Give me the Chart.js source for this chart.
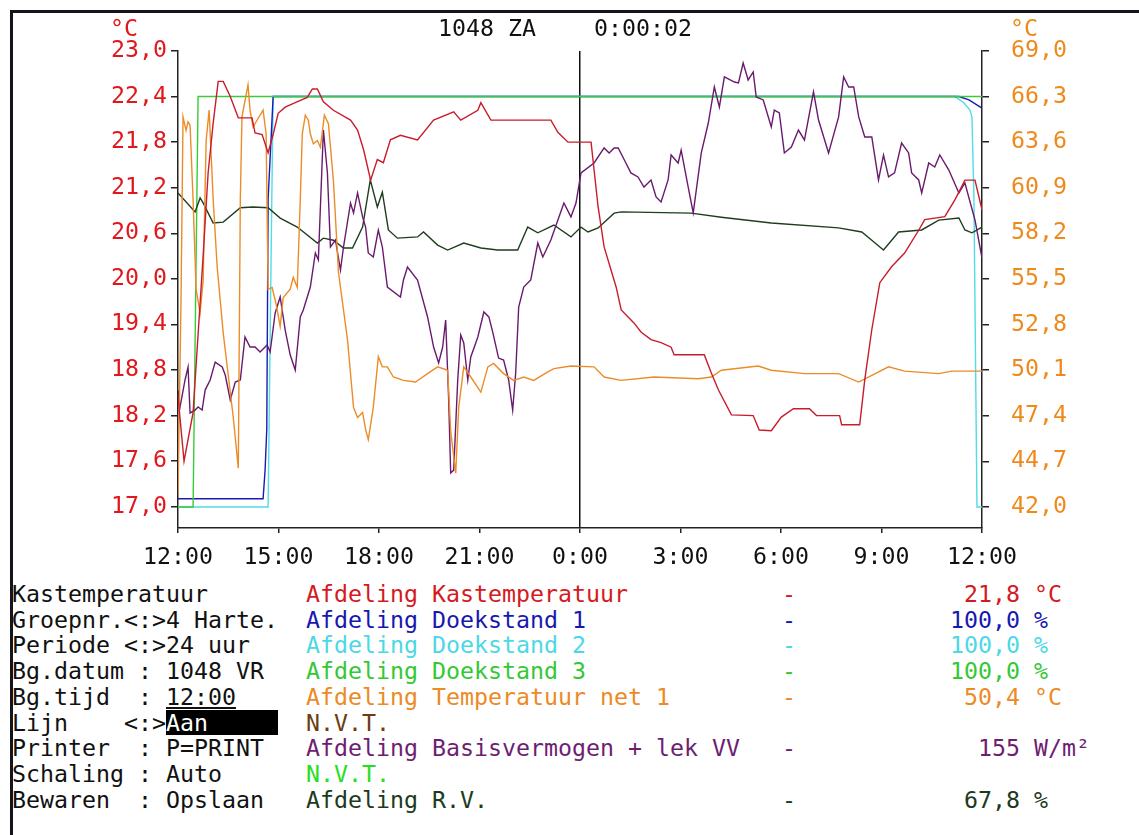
<!DOCTYPE html>
<html>
<head>
<meta charset="utf-8">
<script src="https://cdn.jsdelivr.net/npm/chart.js@4.4.1/dist/chart.umd.min.js"></script>
<style>
body { margin: 0; background: #fff; width: 1139px; height: 835px; overflow: hidden; position: relative;
       font-family: 'DejaVu Sans Mono', monospace; }
.frame { position: absolute; left: 10px; top: 10px; right: 0; bottom: 0;
         border-top: 3px solid #14141c; border-left: 3px solid #14141c; }
#myChart { position: absolute; left: 0; top: 0; }
.txt { position: absolute; font-size: 23.25px; line-height: 26px; white-space: pre; }
.row { position: absolute; left: 12px; width: 1120px; font-size: 23.25px; line-height: 25.7px; height: 25.7px; white-space: pre; }
.row span { position: absolute; top: 0; }
</style>
</head>
<body>
<div class="frame"></div>
<canvas id="myChart" width="1139" height="575"></canvas>
<div class="txt" style="left:110px;top:15px;color:#e0181c">°C</div>
<div class="txt" style="left:1010px;top:15px;color:#ee8a1c">°C</div>
<div class="txt" style="left:438px;top:15px;color:#111">1048 ZA</div>
<div class="txt" style="left:594px;top:15px;color:#111">0:00:02</div>
<div id="legend"></div>

<script>
// grafiek Kastemperatuur 24 uur

Chart.defaults.font.family = "'DejaVu Sans Mono', monospace";
Chart.defaults.font.size = 23.25;

var hourTicks = [0, 3, 6, 9, 12, 15, 18, 21, 24];
var hourLabels = ['12:00', '15:00', '18:00', '21:00', '0:00', '3:00', '6:00', '9:00', '12:00'];
var tempTicks = [17.0, 17.6, 18.2, 18.8, 19.4, 20.0, 20.6, 21.2, 21.8, 22.4, 23.0];
var netTicks = [42.0, 44.7, 47.4, 50.1, 52.8, 55.5, 58.2, 60.9, 63.6, 66.3, 69.0];

// Afdeling Kastemperatuur (°C, links)
var kastHours = [0,0.18,0.45,0.75,0.9,1.05,1.2,1.35,1.56,1.8,2.21,2.3,2.51,2.69,2.84,2.99,3.2,3.5,3.86,4.01,4.16,4.34,4.64,5.15,5.36,5.54,5.75,5.95,6.13,6.34,6.64,7.15,7.63,8.23,8.44,8.95,9.04,9.34,11.13,11.34,11.64,12.33,12.54,12.72,13.08,13.23,13.61,13.82,14.12,14.42,14.72,14.81,15.71,15.92,16.13,16.52,17.17,17.35,17.71,18.01,18.37,18.85,19.06,19.75,19.81,20.35,20.5,20.71,20.95,21.3,21.69,22.11,22.29,22.89,23.19,23.49,23.79,24];
var kastTemp = [18.45,17.6,18.24,20.3,21.4,22.05,22.6,22.6,22.4,22.12,22.12,21.92,21.9,21.66,21.9,22.18,22.26,22.32,22.39,22.5,22.5,22.33,22.22,22.09,21.96,21.7,21.3,21.57,21.53,21.83,21.89,21.83,22.09,22.2,22.09,22.22,22.32,22.09,22.09,21.93,21.8,21.8,20.95,20.42,19.89,19.59,19.42,19.3,19.2,19.16,19.1,19.0,19.0,18.76,18.54,18.21,18.2,18.01,18.0,18.18,18.29,18.29,18.2,18.2,18.08,18.08,18.67,19.33,19.95,20.16,20.34,20.64,20.78,20.82,21.04,21.3,21.3,20.91];

// Doekstanden (%)
var doek1Hours = [0,2.54,2.6,2.65,2.69,2.84,23.31,23.61,24];
var doek1 = [2,2,9,19,75,100,100,99.2,97.2];
var doek2Hours = [0,2.69,2.8,2.84,23.19,23.46,23.64,23.7,23.76,23.85,24];
var doek2 = [0,0,75,100,100,98.5,96.7,95,75,0,0];
var doek3Hours = [0,0.45,0.6,24];
var doek3 = [0,0,100,100];

// Temperatuur net 1 (°C, rechts)
var netHours = [0,0.09,0.15,0.24,0.30,0.36,0.45,0.54,0.66,0.75,0.84,0.93,1.05,1.17,1.35,1.65,1.80,1.86,1.91,2.09,2.15,2.24,2.36,2.54,2.63,2.69,2.81,2.93,3.05,3.14,3.35,3.44,3.56,3.65,3.71,3.80,3.89,3.95,4.04,4.16,4.25,4.37,4.49,4.64,4.79,5.06,5.24,5.36,5.51,5.60,5.68,5.83,5.98,6.10,6.25,6.43,6.73,7.09,7.45,7.75,8.05,8.14,8.29,8.38,8.53,8.74,9.04,9.25,9.42,9.72,10.02,10.32,10.62,11.04,11.22,11.73,12.42,12.72,13.23,14.21,15.53,15.92,16.22,17.32,17.71,18.70,19.72,20.32,20.71,21.21,21.69,22.71,23.10,24];
var netTemp = [42.8,54.3,65.1,64.3,64.8,64.6,60.2,54.9,53.5,55.4,63.7,65.5,60.2,56.2,52.3,47.3,44.3,60.2,65.1,67.0,65.5,64.5,64.9,65.5,64.1,54.9,55.0,54.0,52.7,54.4,54.9,55.6,55.0,60.2,64.1,65.2,64.9,64.1,63.5,63.7,63.3,65.2,64.7,61.3,55.9,51.9,47.9,47.3,47.6,46.6,46.0,47.9,50.9,50.3,50.3,49.7,49.5,49.4,49.9,50.3,50.1,46.5,44.0,47.9,50.3,49.7,48.8,50.3,50.5,49.9,49.5,49.7,49.5,50.0,50.2,50.35,50.3,49.7,49.5,49.7,49.6,49.7,50.1,50.35,50.1,49.9,49.9,49.4,49.8,50.3,50.05,49.9,50.05,50.05];

// Basisvermogen + lek VV (W/m2)
var vermHours = [0,0.06,0.21,0.30,0.36,0.51,0.60,0.72,0.81,0.96,1.11,1.32,1.41,1.56,1.71,1.86,2.00,2.15,2.30,2.45,2.66,2.75,2.90,3.05,3.20,3.35,3.50,3.65,3.74,3.95,4.10,4.19,4.34,4.46,4.55,4.70,4.85,4.94,5.15,5.24,5.36,5.51,5.60,5.68,5.83,5.98,6.10,6.25,6.64,6.73,6.85,7.15,7.45,7.63,7.78,7.90,7.99,8.08,8.14,8.23,8.35,8.44,8.53,8.65,8.74,8.95,9.13,9.28,9.40,9.57,9.72,9.87,9.99,10.08,10.17,10.32,10.53,10.74,10.89,11.13,11.34,11.52,11.73,11.88,12.03,12.42,12.72,12.87,13.02,13.14,13.37,13.52,13.73,13.91,14.12,14.27,14.42,14.63,14.72,14.93,15.02,15.23,15.38,15.62,15.83,16.01,16.16,16.31,16.61,16.73,16.87,17.02,17.17,17.26,17.47,17.71,17.80,17.95,18.10,18.31,18.52,18.70,18.97,19.12,19.42,19.72,19.87,20.02,20.17,20.32,20.50,20.71,20.91,21.06,21.21,21.39,21.60,21.81,21.90,22.11,22.20,22.41,22.59,22.74,23.01,23.31,23.49,23.79,24];
var vermogen = [73.1,62.5,79.4,87.5,58.8,60.6,62.5,60.6,73.1,79.4,90.6,87.5,82.5,66.9,78.1,79.4,106.3,100,100,96.9,101.3,96.9,121.3,131.3,110.6,95,85.6,118.8,123.1,137.5,158.8,154.4,235.6,208.8,162.5,166.9,148.1,162.5,190,183.8,196.3,181.3,175,158.8,156.3,173.1,162.5,137.5,131.3,141.9,150,141.9,118.8,100,90,100,116.9,66.9,21.3,23.1,79.4,107.5,102.5,79.4,93.8,106.3,121.9,118.8,108.8,93.1,91.9,79.4,60.6,83.8,125,137.5,141.9,165,156.3,166.9,179.4,190,181.3,190,208.8,215,224.4,221.3,224.4,224.4,215,208.8,206.3,200,204.4,193.8,190.6,204.4,220,215,223.1,200,183.8,221.3,240,262.5,250,268.8,265.6,265,277.5,266.9,271.9,256.3,254.4,237.5,248.1,246.3,221.3,225,235.6,229.4,259.4,241.9,221.3,243.8,268.8,262.5,262.5,243.8,231.3,231.3,204.4,220,206.3,208.8,227.5,221.3,208.8,204.4,196.3,215,212.5,220,210.6,196.3,202.5,179.4,155.6];

// R.V. (%)
var rvHours = [0,0.51,0.66,0.75,1.05,1.35,1.86,2.24,2.69,3.05,3.56,4.16,4.34,4.64,4.94,5.21,5.51,5.74,5.95,6.10,6.28,6.55,7.15,7.33,7.75,8.05,8.53,9.04,9.54,10.14,10.44,10.74,11.22,11.73,12.03,12.24,12.54,13.02,13.23,15.32,16.22,17.71,19.72,20.41,20.71,21.06,21.51,22.2,22.71,23.31,23.49,23.70,24];
var rv = [76.5,71.9,75.3,74.1,69.2,69.4,72.9,73.1,72.9,70.4,68.2,64.3,65.5,65.0,63.1,63.1,68.2,79.7,73.1,76.7,67.5,65.5,65.8,67.0,63.8,62.6,64.3,63.1,62.6,62.6,68.2,66.8,68.7,65.8,68.2,67.0,68.0,71.6,71.9,71.6,70.6,69.2,68.0,67.0,65.0,62.6,67.0,67.5,69.9,70.4,67.5,66.8,68.2];

// tekst onder de grafiek
var menuItems = ['Kastemperatuur', 'Groepnr.<:>4 Harte.', 'Periode <:>24 uur', 'Bg.datum : 1048 VR',
                 'Bg.tijd  : ', 'Lijn    <:>', 'Printer  : P=PRINT', 'Schaling : Auto', 'Bewaren  : Opslaan'];
var seriesNames = ['Afdeling Kastemperatuur', 'Afdeling Doekstand 1', 'Afdeling Doekstand 2', 'Afdeling Doekstand 3',
                   'Afdeling Temperatuur net 1', 'N.V.T.', 'Afdeling Basisvermogen + lek VV', 'N.V.T.', 'Afdeling R.V.'];
var seriesColors = ['#d41a22', '#1818b0', '#4cd8e4', '#34c834', '#ec8a26', '#6b3d12', '#6e1e72', '#26de26', '#1c3a1c'];
var currentValues = ['21,8 °C', '100,0 %', '100,0 %', '100,0 %', '50,4 °C', '', '155 W/m²', '', '67,8 %'];
var valueCols = [68, 67, 67, 67, 68, 0, 69, 0, 68];

function pts(hours, vals) {
  return hours.map(function (h, i) { return { x: h, y: vals[i] }; });
}

function line(label, hours, vals, color, axis) {
  return {
    label: label,
    data: pts(hours, vals),
    borderColor: color,
    borderWidth: 1.4,
    pointRadius: 0,
    tension: 0,
    yAxisID: axis
  };
}

var ctx = document.getElementById('myChart');

var myChart = new Chart(ctx, {
  type: 'line',
  data: {
    datasets: [
      line('Afdeling Kastemperatuur', kastHours, kastTemp, '#c81c2c', 'y'),
      line('Afdeling Temperatuur net 1', netHours, netTemp, '#ec8c28', 'y2'),
      line('Afdeling Basisvermogen + lek VV', vermHours, vermogen, '#6a1a6e', 'pw'),
      line('Afdeling R.V.', rvHours, rv, '#1e3e1e', 'pct'),
      line('Afdeling Doekstand 3', doek3Hours, doek3, '#38cc38', 'pct'),
      line('Afdeling Doekstand 1', doek1Hours, doek1, '#1a1ab4', 'pct'),
      line('Afdeling Doekstand 2', doek2Hours, doek2, '#50dce8', 'pct')
    ]
  },
  options: {
    responsive: false,
    animation: false,
    layout: { padding: { top: 51, left: 0, right: 0, bottom: 0 } },
    plugins: { legend: { display: false }, tooltip: { enabled: false } },
    scales: {
      x: {
        type: 'linear',
        min: 0,
        max: 24,
        afterBuildTicks: function (s) { s.ticks = hourTicks.map(function (v) { return { value: v }; }); },
        afterFit: function (s) { s.height = 47; },
        ticks: {
          color: '#111',
          padding: 11,
          maxRotation: 0,
          autoSkip: false,
          callback: function (v, i) { return hourLabels[i]; }
        },
        grid: {
          color: function (c) { return c.tick && c.tick.value === 12 ? '#111' : 'rgba(0,0,0,0)'; },
          lineWidth: 1.5,
          tickColor: '#222',
          tickLength: 5
        },
        border: { display: true, color: '#222', width: 1.5 }
      },
      y: {
        position: 'left',
        min: 16.72,
        max: 23.0,
        afterBuildTicks: function (s) { s.ticks = tempTicks.map(function (v) { return { value: v }; }); },
        afterFit: function (s) { s.width = 178; },
        ticks: {
          color: '#e0181c',
          padding: 4,
          callback: function (v) { return v.toFixed(1).replace('.', ','); }
        },
        grid: { drawOnChartArea: false, tickLength: 7, tickColor: '#222', lineWidth: 1.5 },
        border: { display: true, color: '#222', width: 1.5 }
      },
      y2: {
        position: 'right',
        min: 40.76,
        max: 69.0,
        afterBuildTicks: function (s) { s.ticks = netTicks.map(function (v) { return { value: v }; }); },
        afterFit: function (s) { s.width = 157; },
        ticks: {
          color: '#ee8a1c',
          padding: 22,
          callback: function (v) { return v.toFixed(1).replace('.', ','); }
        },
        grid: { drawOnChartArea: false, tickLength: 7, tickColor: '#222', lineWidth: 1.5 },
        border: { display: true, color: '#222', width: 1.5 }
      },
      pct: { display: false, min: -5.12, max: 111.1 },
      pw: { display: false, min: -13.1, max: 285 }
    }
  }
});

// menu en legenda als tekst
var legend = document.getElementById('legend');
var html = '';
for (var i = 0; i < menuItems.length; i++) {
  var rowTop = 581 + i * 25.7;
  var c = seriesColors[i];
  html += '<div class="row" style="top:' + rowTop + 'px">';
  html += '<span style="left:0;color:#111">' + menuItems[i].replace(/</g, '&lt;').replace(/>/g, '&gt;') + '</span>';
  if (i === 4) html += '<span style="left:' + (11 * 14) + 'px;color:#111;text-decoration:underline">12:00</span>';
  if (i === 5) html += '<span style="left:' + (11 * 14) + 'px;color:#fff;background:#000;width:112px">Aan</span>';
  html += '<span style="left:' + (21 * 14) + 'px;color:' + c + '">' + seriesNames[i] + '</span>';
  if (currentValues[i]) {
    html += '<span style="left:' + (55 * 14) + 'px;color:' + c + '">-</span>';
    html += '<span style="left:' + (valueCols[i] * 14) + 'px;color:' + c + '">' + currentValues[i] + '</span>';
  }
  html += '</div>';
}
legend.innerHTML = html;
</script>
</body>
</html>
